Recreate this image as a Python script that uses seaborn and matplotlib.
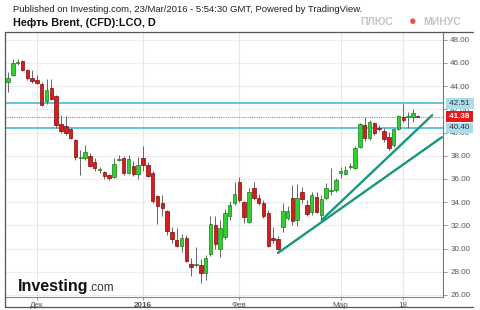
import numpy as np
import pandas as pd
import matplotlib
matplotlib.use("Agg")
import matplotlib.pyplot as plt
import matplotlib.transforms as mtransforms
from matplotlib.lines import Line2D
import seaborn as sns

# ---- data ----
opens = [44.39, 44.97, 46.00, 46.17, 45.40, 44.73, 44.50, 44.22, 42.70, 43.87,
         43.19, 40.70, 40.57, 40.30, 39.40, 37.80, 37.85, 38.00, 37.49, 36.75,
         36.57, 36.34, 36.20, 37.65, 37.80, 36.50, 37.10, 36.43, 37.80, 37.20,
         36.55, 34.50, 33.96, 33.28, 31.46, 30.74, 30.22, 30.94, 28.67, 28.60,
         28.59, 27.87, 29.53, 32.03, 29.94, 31.03, 32.80, 33.90, 35.77, 34.04,
         32.32, 35.20, 34.33, 33.90, 33.10, 30.88, 30.80, 31.90, 32.60, 34.33,
         32.50, 34.85, 33.76, 33.19, 34.47, 32.90, 34.33, 35.00, 35.05, 36.49,
         36.43, 37.04, 36.98, 38.78, 40.66, 39.50, 40.80, 40.37, 40.14, 39.60,
         38.93, 40.30, 41.34, 41.35, 41.37, 41.46]
highs = [45.22, 46.34, 46.30, 46.26, 45.50, 45.40, 44.97, 44.34, 44.60, 44.60,
         43.20, 41.50, 41.46, 40.40, 39.45, 38.50, 38.90, 38.20, 37.80, 37.06,
         36.70, 36.40, 37.80, 38.07, 37.98, 38.07, 37.58, 37.90, 38.84, 37.50,
         36.70, 34.60, 34.60, 33.30, 31.90, 31.75, 31.26, 31.17, 29.16, 30.16,
         29.08, 29.45, 32.77, 32.77, 32.50, 33.38, 34.13, 35.77, 36.20, 34.13,
         35.20, 35.77, 34.70, 34.19, 33.33, 31.82, 31.09, 33.90, 33.67, 35.48,
         35.57, 35.34, 34.19, 34.90, 34.90, 34.62, 35.68, 36.97, 36.10, 37.07,
         37.15, 37.35, 38.87, 40.80, 41.37, 41.10, 40.95, 40.66, 40.37, 40.03,
         40.37, 41.50, 42.44, 41.80, 42.00, 41.50]
lows = [43.53, 44.90, 45.80, 45.30, 44.50, 44.30, 44.20, 42.30, 42.50, 42.80,
        40.40, 39.97, 39.80, 39.45, 37.60, 36.30, 37.60, 37.00, 36.70, 36.50,
        35.97, 35.90, 36.10, 37.58, 36.34, 36.40, 36.26, 35.97, 36.70, 36.20,
        33.90, 32.10, 32.77, 31.17, 30.50, 30.10, 29.73, 28.85, 27.64, 28.44,
        27.06, 27.30, 29.40, 29.94, 29.25, 30.80, 32.50, 33.76, 34.00, 32.18,
        32.18, 34.19, 33.76, 32.64, 30.10, 30.45, 29.82, 31.47, 32.47, 32.03,
        31.95, 33.90, 32.81, 32.90, 33.04, 32.47, 34.19, 34.62, 34.90, 36.06,
        36.34, 36.86, 36.86, 38.67, 39.28, 39.36, 39.80, 40.14, 39.20, 38.50,
        38.76, 40.20, 40.95, 40.37, 40.95, 41.30]
closes = [44.74, 45.97, 46.06, 45.40, 44.73, 44.45, 44.28, 42.38, 43.67, 42.90,
          40.66, 40.14, 39.94, 39.56, 37.90, 37.85, 38.30, 37.10, 36.92, 36.80,
          36.26, 36.06, 37.30, 37.70, 36.50, 37.70, 36.40, 37.20, 37.20, 36.26,
          34.14, 33.67, 33.47, 31.50, 30.80, 30.22, 30.94, 28.90, 28.44, 28.65,
          27.87, 29.16, 32.12, 30.40, 31.75, 33.04, 33.76, 34.70, 34.19, 32.70,
          34.90, 34.39, 33.96, 32.80, 30.25, 30.74, 29.96, 33.27, 33.27, 32.40,
          34.40, 34.25, 32.98, 34.62, 33.19, 34.25, 35.20, 35.05, 35.91, 36.69,
          36.78, 37.07, 38.65, 40.70, 39.56, 40.95, 39.94, 40.35, 39.45, 38.70,
          40.30, 41.46, 41.09, 41.40, 41.66, 41.38]

tick_pos = [6, 28, 48, 69, 82]
tick_labels = ["Дек", "2016", "Фев", "Мар", "18"]
y_ticks = [26, 28, 30, 32, 34, 36, 38, 40, 42, 44, 46, 48]
levels = [42.51, 40.40]
last_price = 41.38
trend_a_x = [56.0, 90.0]
trend_a_y = [29.62, 39.60]
trend_b_x = [65.1, 88.0]
trend_b_y = [32.47, 41.50]

# ---- figure ----
sns.set_theme(style="white")
plt.rcParams['font.family'] = ['Liberation Sans', 'DejaVu Sans']

W, H = 480, 310
fig = plt.figure(figsize=(W / 100, H / 100), dpi=100)
L, R, T, B = 5, 443.3, 32, 296.7
ax = fig.add_axes([L / W, 1 - B / H, (R - L) / W, (B - T) / H])

df = pd.DataFrame({"o": opens, "h": highs, "l": lows, "c": closes})
df["i"] = np.arange(len(df))
up = df["c"] >= df["o"]

# grid
for y in y_ticks:
    ax.axhline(y, color="#ededed", lw=0.8, zorder=0)
for x in tick_pos:
    ax.axvline(x, color="#e6e6e6", lw=0.8, zorder=0)

# wicks
ax.vlines(df["i"], df["l"], df["h"], color="#666666", lw=0.7, zorder=2)
# bodies
body_bottom = np.minimum(df["o"], df["c"])
body_h = np.maximum(np.abs(df["c"] - df["o"]), 0.07)
ax.bar(df["i"][up], body_h[up], bottom=body_bottom[up], width=0.72,
       color="#2fd02f", edgecolor="#1a7a1a", linewidth=0.5, zorder=3)
ax.bar(df["i"][~up], body_h[~up], bottom=body_bottom[~up], width=0.72,
       color="#d81c1c", edgecolor="#7a0b0b", linewidth=0.5, zorder=3)

# level lines
for lv in levels:
    ax.axhline(lv, color="#62c4dc", lw=1.4, zorder=1)
ax.axhline(last_price, color="#e36a6a", lw=0.8, ls=(0, (1, 1)), zorder=1)

# trend lines
sns.lineplot(x=trend_a_x, y=trend_a_y, ax=ax, color="#17987e", lw=1.7, zorder=4)
sns.lineplot(x=trend_b_x, y=trend_b_y, ax=ax, color="#17987e", lw=1.7, zorder=4)

ax.set_xlim(-0.62, 90.3)
ax.set_ylim(25.85, 48.67)

# axes styling
for s in ["left", "top"]:
    ax.spines[s].set_visible(False)
ax.spines["right"].set_color("#777777")
ax.spines["right"].set_linewidth(0.8)
ax.spines["bottom"].set_color("#888888")
ax.spines["bottom"].set_linewidth(0.8)

ax.yaxis.tick_right()
ax.set_yticks(y_ticks)
ax.set_yticklabels([f"{v:.2f}" for v in y_ticks])
ax.tick_params(axis="y", which="both", right=True, left=False, length=3,
               width=0.6, color="#888888", labelsize=5.8, labelcolor="#555555", pad=2)
ax.set_xticks(tick_pos)
ax.set_xticklabels(tick_labels)
ax.tick_params(axis="x", bottom=True, length=2, width=0.6, color="#888888",
               labelsize=5.8, labelcolor="#555555", pad=1.5)
for lbl in ax.get_xticklabels():
    if lbl.get_text() == "2016":
        lbl.set_fontweight("bold")
ax.set_xlabel("")
ax.set_ylabel("")

# price labels on the axis
trans = mtransforms.blended_transform_factory(ax.transAxes, ax.transData)
for lv in levels:
    ax.text(1.009, lv, f" {lv:.2f} ", transform=trans, fontsize=5.8, color="#333333",
            va="center", ha="left", zorder=6, clip_on=False,
            bbox=dict(boxstyle="square,pad=0.2", fc="#a9dde9", ec="none"))
ax.text(1.009, last_price, f" {last_price:.2f} ", transform=trans, fontsize=5.8,
        color="white", fontweight="bold", va="center", ha="left", zorder=6, clip_on=False,
        bbox=dict(boxstyle="square,pad=0.2", fc="#e41a1a", ec="none"))

# outer frame
fr = dict(color="#555555", lw=0.9, transform=fig.transFigure)
fig.add_artist(Line2D([5 / W, 473 / W], [1 - 32 / H, 1 - 32 / H], **fr))
fig.add_artist(Line2D([5 / W, 5 / W], [1 - 32 / H, 1 - 307 / H], **fr))
fig.add_artist(Line2D([5 / W, 473 / W], [1 - 307 / H, 1 - 307 / H], **fr))

# header texts
fig.text(13 / W, 1 - 9 / H, "Published on Investing.com, 23/Mar/2016 - 5:54:30 GMT, Powered by TradingView.",
         fontsize=6.8, color="#222222", va="center", ha="left")
fig.text(13 / W, 1 - 23 / H, "Нефть Brent, (CFD):LCO, D", fontsize=7.8,
         fontweight="bold", color="#111111", va="center", ha="left")
fig.text(360 / W, 1 - 22 / H, "ПЛЮС", fontsize=7.5, fontweight="bold", color="#c4c4c4",
         va="center", ha="left")
fig.text(423 / W, 1 - 22 / H, "МИНУС", fontsize=7.5, fontweight="bold", color="#c4c4c4",
         va="center", ha="left")
fig.text(413 / W, 1 - 22 / H, "●", fontsize=9, color="#e8504a", va="center", ha="center")

# watermark
wm = fig.text(18 / W, 1 - 287 / H, "Investing", fontsize=11.5, fontweight="bold",
              color="#111111", va="center", ha="left")
fig.canvas.draw()
bb = wm.get_window_extent()
fig.text(bb.x1 / W + 0.001, 1 - 288 / H, ".com", fontsize=8.5, color="#333333",
         va="center", ha="left")

fig.savefig("out.png", dpi=100)
